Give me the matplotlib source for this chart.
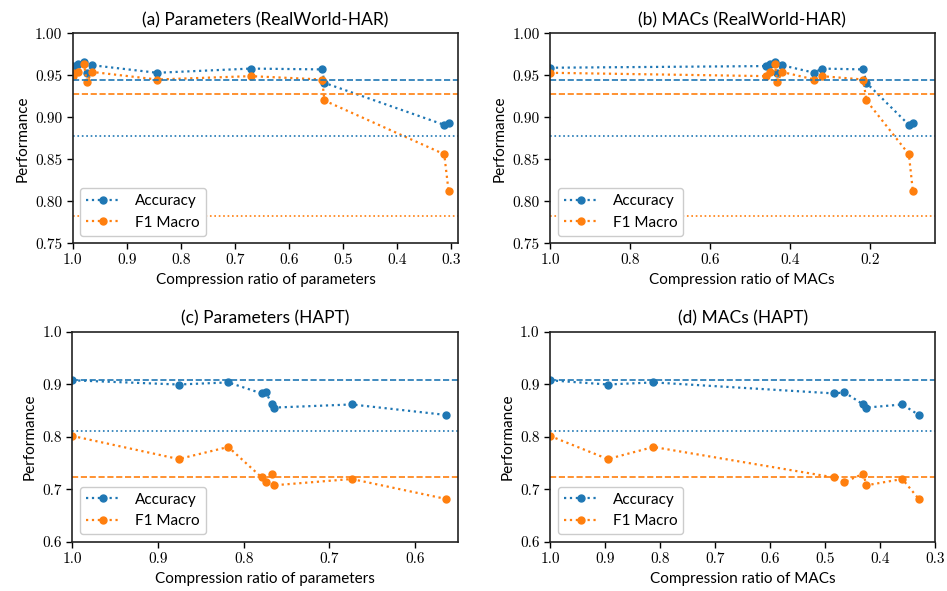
import matplotlib
matplotlib.use("Agg")
import matplotlib.pyplot as plt
from matplotlib.ticker import MultipleLocator, FormatStrFormatter

# RealWorld-HAR: one entry per model (base model first)
rw_params = [1.000, 0.999, 0.990, 0.979, 0.974, 0.964, 0.844, 0.670, 0.538, 0.534, 0.312, 0.304]
rw_macs = [1.000, 0.460, 0.450, 0.439, 0.432, 0.421, 0.340, 0.322, 0.218, 0.210, 0.104, 0.094]
rw_acc = [0.959, 0.961, 0.964, 0.966, 0.953, 0.962, 0.953, 0.958, 0.957, 0.941, 0.891, 0.893]
rw_f1 = [0.953, 0.949, 0.954, 0.963, 0.942, 0.954, 0.945, 0.949, 0.945, 0.920, 0.856, 0.812]
rw_acc_dashed = 0.944
rw_acc_dotted = 0.878
rw_f1_dashed = 0.928
rw_f1_dotted = 0.782

# HAPT
hapt_params = [1.000, 0.876, 0.818, 0.779, 0.774, 0.767, 0.765, 0.674, 0.564]
hapt_macs = [1.000, 0.895, 0.812, 0.484, 0.465, 0.431, 0.425, 0.360, 0.330]
hapt_acc = [0.908, 0.900, 0.904, 0.883, 0.885, 0.862, 0.856, 0.862, 0.842]
hapt_f1 = [0.802, 0.758, 0.781, 0.723, 0.714, 0.730, 0.708, 0.720, 0.682]
hapt_acc_dashed = 0.909
hapt_acc_dotted = 0.812
hapt_f1_dashed = 0.724

BLUE = "#1f77b4"
ORANGE = "#ff7f0e"

plt.rcParams["font.family"] = ["Lato", "DejaVu Sans"]

W, H = 947, 591
fig = plt.figure(figsize=(W / 100, H / 100), dpi=100)


def px_axes(left, right, top, bottom):
    """Axes placed by pixel edges of the figure."""
    return fig.add_axes([left / W, (H - bottom) / H, (right - left) / W, (bottom - top) / H])


def draw_panel(ax, x, acc, f1, refs, title, xlabel, xlim, xstep, ylim, ystep, yfmt):
    ax.plot(x, acc, ":", marker="o", color=BLUE, lw=1.6, ms=5, label="Accuracy")
    ax.plot(x, f1, ":", marker="o", color=ORANGE, lw=1.6, ms=5, label="F1 Macro")
    for val, color, ls in refs:
        ax.axhline(val, color=color, ls=ls, lw=1.2)

    ax.set_xlim(*xlim)
    ax.set_ylim(*ylim)
    ax.xaxis.set_major_locator(MultipleLocator(xstep))
    ax.yaxis.set_major_locator(MultipleLocator(ystep))
    ax.xaxis.set_major_formatter(FormatStrFormatter("%.1f"))
    ax.yaxis.set_major_formatter(FormatStrFormatter(yfmt))
    ax.tick_params(labelfontfamily="cmr10", labelsize=11, length=4, width=1)
    for s in ax.spines.values():
        s.set_linewidth(1.2)
        s.set_color("#222222")

    ax.set_title(title, fontsize=12.5, pad=6)
    ax.set_xlabel(xlabel, fontsize=11)
    ax.set_ylabel("Performance", fontsize=11)
    ax.legend(loc="lower left", fontsize=11, handlelength=2.2, handletextpad=1.0,
              fancybox=True, framealpha=1.0, edgecolor="#cccccc")


rw_refs = [(rw_acc_dashed, BLUE, "--"), (rw_f1_dashed, ORANGE, "--"),
           (rw_acc_dotted, BLUE, ":"), (rw_f1_dotted, ORANGE, ":")]
hapt_refs = [(hapt_acc_dashed, BLUE, "--"), (hapt_f1_dashed, ORANGE, "--"),
             (hapt_acc_dotted, BLUE, ":")]

ax_a = px_axes(72.7, 458.3, 33.3, 243.3)
draw_panel(ax_a, rw_params, rw_acc, rw_f1, rw_refs, "(a) Parameters (RealWorld-HAR)",
           "Compression ratio of parameters", (1.0, 0.286), 0.1, (0.75, 1.0), 0.05, "%.2f")

ax_b = px_axes(550, 934.5, 33.3, 243.3)
draw_panel(ax_b, rw_macs, rw_acc, rw_f1, rw_refs, "(b) MACs (RealWorld-HAR)",
           "Compression ratio of MACs", (1.0, 0.04), 0.2, (0.75, 1.0), 0.05, "%.2f")

ax_c = px_axes(72.3, 458, 332, 542)
draw_panel(ax_c, hapt_params, hapt_acc, hapt_f1, hapt_refs, "(c) Parameters (HAPT)",
           "Compression ratio of parameters", (1.0, 0.55), 0.1, (0.6, 1.0), 0.1, "%.1f")

ax_d = px_axes(550, 935.3, 332, 542)
draw_panel(ax_d, hapt_macs, hapt_acc, hapt_f1, hapt_refs, "(d) MACs (HAPT)",
           "Compression ratio of MACs", (1.0, 0.3), 0.1, (0.6, 1.0), 0.1, "%.1f")

fig.savefig("out.png", dpi=100)
